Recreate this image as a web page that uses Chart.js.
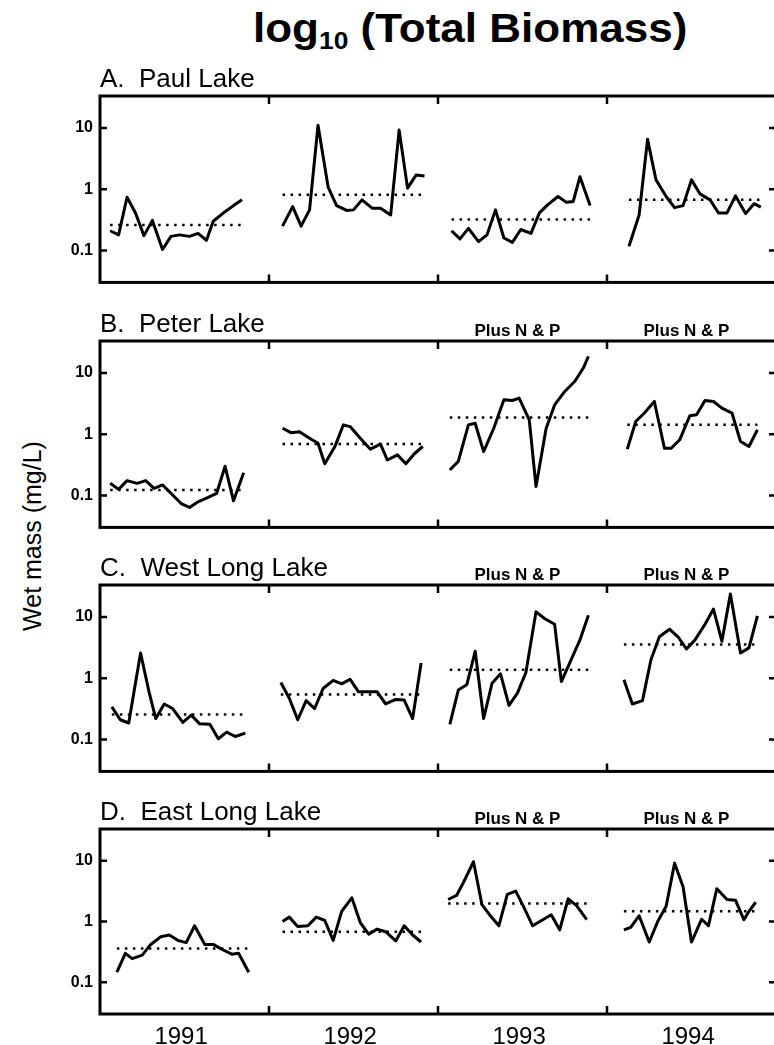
<!DOCTYPE html>
<html>
<head>
<meta charset="utf-8">
<script src="https://cdn.jsdelivr.net/npm/chart.js@4"></script>
<style>
  html, body { margin: 0; padding: 0; background: #fff; overflow: hidden; width: 774px; height: 1045px; }
  #page { position: relative; width: 800px; height: 1045px; font-family: "Liberation Sans", Arial, sans-serif; color: #000; }
  canvas { position: absolute; left: 0; }
  .txt { position: absolute; white-space: nowrap; line-height: 1; }
</style>
</head>
<body>
<div id="page">
  <div class="txt" style="left:253px; top:8px; font-size:40px; font-weight:bold; transform:scaleX(1.1); transform-origin:left top;">log<sub style="font-size:24px; line-height:0; vertical-align:-7px;">10</sub> (Total Biomass)</div>
  <div class="txt" style="left:32px; top:536px; font-size:25px; transform:translate(-50%,-50%) rotate(-90deg);">Wet mass (mg/L)</div>
  <canvas id="paul" width="800" height="243" style="top:56px"></canvas>
  <canvas id="peter" width="800" height="243" style="top:301px"></canvas>
  <canvas id="west" width="800" height="243" style="top:545px"></canvas>
  <canvas id="east" width="800" height="270" style="top:789px"></canvas>
</div>
<script>
// x = fraction of the year (sampling date), y = wet mass (mg/L)
const years = ['1991', '1992', '1993', '1994'];
const yTicks = [0.1, 1, 10];
const yTickLabels = ['0.1', '1', '10'];
const yearBreaks = [1, 2, 3];

const paul1991 = [[0.06,0.21],[0.11,0.18],[0.16,0.74],[0.21,0.41],[0.26,0.175],[0.31,0.31],[0.37,0.104],[0.42,0.17],[0.47,0.18],[0.53,0.17],[0.58,0.19],[0.63,0.147],[0.67,0.30],[0.74,0.43],[0.79,0.54],[0.84,0.67]];
const paul1992 = [[0.08,0.25],[0.14,0.52],[0.19,0.25],[0.24,0.46],[0.29,11.0],[0.35,1.08],[0.40,0.54],[0.46,0.45],[0.50,0.46],[0.55,0.67],[0.61,0.49],[0.66,0.49],[0.72,0.38],[0.77,9.2],[0.82,1.04],[0.87,1.7],[0.92,1.64]];
const paul1993 = [[0.08,0.21],[0.13,0.155],[0.18,0.23],[0.24,0.14],[0.29,0.18],[0.34,0.46],[0.39,0.16],[0.44,0.136],[0.49,0.22],[0.55,0.19],[0.60,0.41],[0.65,0.56],[0.71,0.76],[0.76,0.61],[0.80,0.63],[0.84,1.6],[0.90,0.54]];
const paul1994 = [[0.13,0.117],[0.19,0.38],[0.24,6.5],[0.29,1.42],[0.35,0.76],[0.40,0.5],[0.45,0.54],[0.50,1.42],[0.55,0.84],[0.61,0.67],[0.66,0.41],[0.71,0.41],[0.76,0.78],[0.82,0.4],[0.87,0.58],[0.91,0.51]];
const paulMeans = [0.26, 0.81, 0.32, 0.67];

const peter1991 = [[0.06,0.158],[0.11,0.126],[0.16,0.175],[0.22,0.158],[0.27,0.175],[0.32,0.131],[0.37,0.149],[0.43,0.102],[0.48,0.074],[0.53,0.064],[0.58,0.079],[0.64,0.093],[0.69,0.108],[0.74,0.30],[0.79,0.082],[0.85,0.236]];
const peter1992 = [[0.08,1.25],[0.13,1.06],[0.18,1.1],[0.24,0.86],[0.29,0.71],[0.33,0.33],[0.39,0.63],[0.44,1.42],[0.48,1.33],[0.54,0.86],[0.60,0.57],[0.66,0.69],[0.70,0.38],[0.76,0.46],[0.81,0.33],[0.86,0.48],[0.91,0.63]];
const peter1993 = [[0.07,0.26],[0.12,0.36],[0.18,1.42],[0.22,1.51],[0.27,0.52],[0.33,1.25],[0.39,3.64],[0.44,3.55],[0.48,3.88],[0.54,1.71],[0.58,0.14],[0.64,1.25],[0.69,3.0],[0.75,4.98],[0.81,7.3],[0.86,12.0],[0.89,18.6]];
const peter1994 = [[0.12,0.57],[0.17,1.61],[0.22,2.2],[0.28,3.42],[0.34,0.59],[0.38,0.59],[0.43,0.81],[0.49,2.0],[0.53,2.07],[0.58,3.55],[0.63,3.42],[0.68,2.66],[0.74,2.2],[0.79,0.76],[0.84,0.63],[0.89,1.18]];
const peterMeans = [0.123, 0.69, 1.87, 1.42];

const west1991 = [[0.07,0.34],[0.12,0.21],[0.17,0.186],[0.24,2.58],[0.29,0.60],[0.33,0.22],[0.38,0.38],[0.43,0.32],[0.49,0.19],[0.54,0.25],[0.59,0.18],[0.65,0.177],[0.70,0.103],[0.75,0.132],[0.80,0.112],[0.86,0.127]];
const west1992 = [[0.07,0.85],[0.12,0.47],[0.17,0.21],[0.22,0.43],[0.27,0.32],[0.32,0.68],[0.38,0.92],[0.43,0.81],[0.48,0.96],[0.53,0.60],[0.58,0.60],[0.64,0.60],[0.69,0.38],[0.75,0.45],[0.80,0.44],[0.85,0.22],[0.90,1.77]];
const west1993 = [[0.07,0.177],[0.12,0.64],[0.17,0.78],[0.22,2.75],[0.27,0.22],[0.32,0.83],[0.37,1.18],[0.42,0.36],[0.47,0.57],[0.52,1.24],[0.58,12.1],[0.63,9.4],[0.69,7.6],[0.73,0.88],[0.79,2.06],[0.84,4.2],[0.89,10.6]];
const west1994 = [[0.10,0.94],[0.15,0.38],[0.21,0.43],[0.26,2.0],[0.31,4.74],[0.37,6.3],[0.42,4.74],[0.47,3.0],[0.52,4.18],[0.58,7.57],[0.63,13.4],[0.68,4.0],[0.73,23.6],[0.79,2.58],[0.84,3.12],[0.89,10.4]];
const westMeans = [0.255, 0.54, 1.37, 3.54];

const east1991 = [[0.10,0.147],[0.15,0.30],[0.19,0.245],[0.25,0.28],[0.30,0.42],[0.36,0.56],[0.41,0.60],[0.46,0.49],[0.51,0.45],[0.56,0.85],[0.62,0.42],[0.67,0.42],[0.72,0.35],[0.78,0.29],[0.82,0.30],[0.88,0.147]];
const east1992 = [[0.08,1.0],[0.12,1.18],[0.17,0.83],[0.23,0.85],[0.28,1.18],[0.33,1.04],[0.38,0.49],[0.43,1.47],[0.49,2.45],[0.54,0.96],[0.59,0.62],[0.64,0.75],[0.69,0.68],[0.75,0.48],[0.80,0.85],[0.85,0.6],[0.90,0.46]];
const east1993 = [[0.06,2.3],[0.11,2.68],[0.15,4.35],[0.21,9.6],[0.26,1.9],[0.31,1.24],[0.36,0.85],[0.41,2.78],[0.46,3.16],[0.51,1.67],[0.56,0.85],[0.62,1.07],[0.67,1.29],[0.72,0.73],[0.77,2.36],[0.82,1.82],[0.88,1.07]];
const east1994 = [[0.10,0.73],[0.14,0.80],[0.19,1.24],[0.25,0.46],[0.30,1.0],[0.35,1.78],[0.40,9.1],[0.45,3.73],[0.50,0.46],[0.56,1.09],[0.60,0.85],[0.65,3.46],[0.71,2.3],[0.76,2.24],[0.81,1.07],[0.84,1.47],[0.88,2.07]];
const eastMeans = [0.36, 0.68, 1.97, 1.47];

const FONT = '"Liberation Sans", Arial, sans-serif';

// box around the plot, inward tick marks, panel title and "Plus N & P" labels
const framePlugin = {
  id: 'frame',
  afterDraw(chart, args, opts) {
    const { ctx, chartArea: a, scales: { x, y } } = chart;
    ctx.save();
    ctx.strokeStyle = '#000';
    ctx.lineWidth = 3;
    ctx.strokeRect(a.left, a.top, a.right - a.left, a.bottom - a.top);
    ctx.lineWidth = 2.5;
    ctx.beginPath();
    yearBreaks.forEach((v) => {
      const px = x.getPixelForValue(v);
      ctx.moveTo(px, a.top); ctx.lineTo(px, a.top + 8);
      ctx.moveTo(px, a.bottom); ctx.lineTo(px, a.bottom - 8);
    });
    yTicks.forEach((v) => {
      const py = y.getPixelForValue(v);
      ctx.moveTo(a.left, py); ctx.lineTo(a.left + 7, py);
      ctx.moveTo(a.right, py); ctx.lineTo(a.right - 7, py);
    });
    ctx.stroke();

    ctx.fillStyle = '#000';
    ctx.textBaseline = 'alphabetic';
    ctx.font = '26px ' + FONT;
    ctx.textAlign = 'left';
    ctx.fillText(opts.title, a.left, a.top - 9);
    if (opts.plus) {
      ctx.font = 'bold 17px ' + FONT;
      ctx.textAlign = 'center';
      [2.47, 3.47].forEach((v) => ctx.fillText('Plus N & P', x.getPixelForValue(v), a.top - 5));
    }
    ctx.restore();
  },
};

const makeChart = (id, segments, means, title, plus, showYears) => {
  const datasets = [];
  segments.forEach((seg, i) => {
    datasets.push({
      data: seg.map((p) => ({ x: i + p[0], y: p[1] })),
      borderColor: '#000',
      borderWidth: 3,
      pointRadius: 0,
      tension: 0,
      borderJoinStyle: 'round',
    });
    datasets.push({
      data: [{ x: i + seg[0][0], y: means[i] }, { x: i + seg[seg.length - 1][0], y: means[i] }],
      borderColor: '#000',
      borderWidth: 2.5,
      borderDash: [2.5, 5.5],
      pointRadius: 0,
    });
  });

  new Chart(document.getElementById(id), {
    type: 'line',
    data: { datasets },
    plugins: [framePlugin],
    options: {
      responsive: false,
      animation: false,
      events: [],
      devicePixelRatio: 1,
      layout: { padding: { top: 40, right: 24, bottom: showYears ? 0 : 8, left: 0 } },
      plugins: {
        legend: { display: false },
        tooltip: { enabled: false },
        frame: { title, plus },
      },
      scales: {
        x: {
          type: 'linear',
          min: 0,
          max: 4,
          display: showYears,
          grid: { display: false, drawTicks: false },
          border: { display: false },
          afterBuildTicks: (scale) => { scale.ticks = years.map((yr, i) => ({ value: i + 0.48 })); },
          afterFit: (scale) => { scale.height = showYears ? 45 : 0; },
          ticks: {
            padding: 9,
            color: '#000',
            font: { family: FONT, size: 24 },
            maxRotation: 0,
            autoSkip: false,
            callback: (v, i) => years[i],
          },
        },
        y: {
          type: 'logarithmic',
          min: Math.pow(10, -1.52),
          max: Math.pow(10, 1.52),
          grid: { display: false, drawTicks: false },
          border: { display: false },
          afterBuildTicks: (scale) => { scale.ticks = yTicks.map((v) => ({ value: v })); },
          afterFit: (scale) => { scale.width = 100; },
          ticks: {
            padding: 7,
            color: '#000',
            font: { family: FONT, size: 16, weight: 'bold' },
            autoSkip: false,
            callback: (v, i) => yTickLabels[i],
          },
        },
      },
    },
  });
};

makeChart('paul', [paul1991, paul1992, paul1993, paul1994], paulMeans, 'A.  Paul Lake', false, false);
makeChart('peter', [peter1991, peter1992, peter1993, peter1994], peterMeans, 'B.  Peter Lake', true, false);
makeChart('west', [west1991, west1992, west1993, west1994], westMeans, 'C.  West Long Lake', true, false);
makeChart('east', [east1991, east1992, east1993, east1994], eastMeans, 'D.  East Long Lake', true, true);
</script>
</body>
</html>
